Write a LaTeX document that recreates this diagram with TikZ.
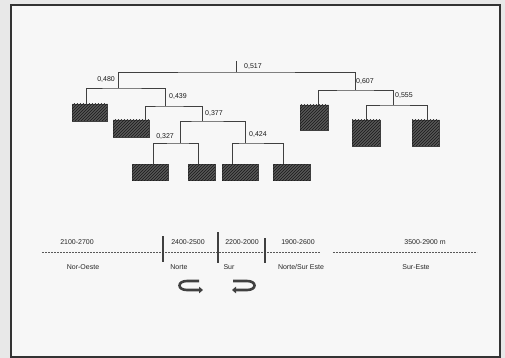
\documentclass[tikz,border=0pt]{standalone}
\usepackage{fontspec}
\setmainfont{Liberation Sans}
\usetikzlibrary{patterns,arrows.meta}

\tikzset{
  leaf/.style={draw=black!75, fill=black!66, minimum height=17pt, inner sep=0pt,
    postaction={pattern=north east lines, pattern color=black!90}},
  branch/.style={draw=black!75, line width=0.9pt},
  val/.style={font=\fontsize{7}{8}\selectfont, text=black!90, inner sep=1pt},
  zone/.style={font=\fontsize{7}{8}\selectfont, text=black!85, inner sep=0pt},
  axisline/.style={draw=black!65, line width=0.8pt, dash pattern=on 2pt off 1pt},
  tick/.style={draw=black!75, line width=1.1pt},
  turn/.style={line width=2.6pt, black!75, -{Triangle[length=4pt,width=6.5pt]}}
}

\begin{document}
\begin{tikzpicture}[x=1pt,y=-1pt]
  \useasboundingbox (0,0) rectangle (505,358);
  \fill[black!9] (0,0) rectangle (505,358);
  \filldraw[fill=black!3, draw=black!80, line width=1.2pt] (11,5) rectangle (500,357);

  % leaves
  \node[leaf, minimum width=35pt] (l1) at (89.5,112.5) {};
  \node[leaf, minimum width=36pt] (l2) at (131,128.5) {};
  \node[leaf, minimum width=36pt, minimum height=16pt] (l3) at (150,172) {};
  \node[leaf, minimum width=27pt, minimum height=16pt] (l4) at (201.5,172) {};
  \node[leaf, minimum width=36pt, minimum height=16pt] (l5) at (240,172) {};
  \node[leaf, minimum width=37pt, minimum height=16pt] (l6) at (291.5,172) {};
  \node[leaf, minimum width=28pt, minimum height=25pt] (l7) at (314,117.5) {};
  \node[leaf, minimum width=28pt, minimum height=26pt] (l8) at (366,133) {};
  \node[leaf, minimum width=27pt, minimum height=26pt] (l9) at (425.5,133) {};

  % joins
  \coordinate (top517) at (236,61);
  \coordinate (n517) at (236,72);
  \coordinate (n480) at (118,88);
  \coordinate (n607) at (355,90);
  \coordinate (n439) at (165,106);
  \coordinate (n377) at (202,121);
  \coordinate (n327) at (180,143);
  \coordinate (n424) at (245,143);
  \coordinate (n555) at (393,105);

  \draw[branch] (top517) -- (n517);
  \draw[branch] (n480) |- (n517) -| (n607);
  \draw[branch] ([xshift=-3.5pt]l1.north) |- (n480) -| (n439);
  \draw[branch] ([xshift=14pt]l2.north) |- (n439) -| (n377);
  \draw[branch] (n327) |- (n377) -| (n424);
  \draw[branch] ([xshift=3pt]l3.north) |- (n327) -| ([xshift=-3.5pt]l4.north);
  \draw[branch] ([xshift=-8pt]l5.north) |- (n424) -| ([xshift=-8.5pt]l6.north);
  \draw[branch] ([xshift=4pt]l7.north) |- (n607) -| (n555);
  \draw[branch] (l8.north) |- (n555) -| ([xshift=1.5pt]l9.north);

  % values
  \node[val, anchor=west] (v517) at (243,67) {0,517};
  \node[val, anchor=east] (v480) at (116,80) {0,480};
  \node[val, anchor=west] (v439) at (168,97) {0,439};
  \node[val, anchor=west] (v377) at (204,114) {0,377};
  \node[val, anchor=east] (v327) at (175,137) {0,327};
  \node[val, anchor=west] (v424) at (248,135) {0,424};
  \node[val, anchor=west] (v607) at (355,82) {0,607};
  \node[val, anchor=west] (v555) at (394,96) {0,555};

  % axis
  \coordinate (ax1) at (42,252);
  \coordinate (ax2) at (320,252);
  \coordinate (ax3) at (333,252);
  \coordinate (ax4) at (477,252);
  \draw[axisline] (ax1) -- (ax2);
  \draw[axisline] (ax3) -- (ax4);
  \coordinate (t1a) at (163,236); \coordinate (t1b) at (163,262);
  \coordinate (t2a) at (218,232); \coordinate (t2b) at (218,263);
  \coordinate (t3a) at (265,238); \coordinate (t3b) at (265,263);
  \draw[tick] (t1a) -- (t1b);
  \draw[tick] (t2a) -- (t2b);
  \draw[tick] (t3a) -- (t3b);

  \node[zone] (h1) at (77,242) {2100-2700};
  \node[zone] (h2) at (188,242) {2400-2500};
  \node[zone] (h3) at (242,242) {2200-2000};
  \node[zone] (h4) at (298,242) {1900-2600};
  \node[zone] (h5) at (425,242) {3500-2900 m};

  \node[zone] (z1) at (83,267) {Nor-Oeste};
  \node[zone] (z2) at (179,267) {Norte};
  \node[zone] (z3) at (229,267) {Sur};
  \node[zone] (z4) at (301,267) {Norte/Sur Este};
  \node[zone] (z5) at (416,267) {Sur-Este};

  % turning arrows
  \coordinate (la) at (199,281);
  \coordinate (lb) at (203,290);
  \coordinate (ra) at (233,281);
  \coordinate (rb) at (232,290);
  \draw[turn] (la) -- (187,281) .. controls (177,281) and (177,290) .. (187,290) -- (lb);
  \draw[turn] (ra) -- (247,281) .. controls (257,281) and (257,290) .. (247,290) -- (rb);
\end{tikzpicture}
\end{document}
